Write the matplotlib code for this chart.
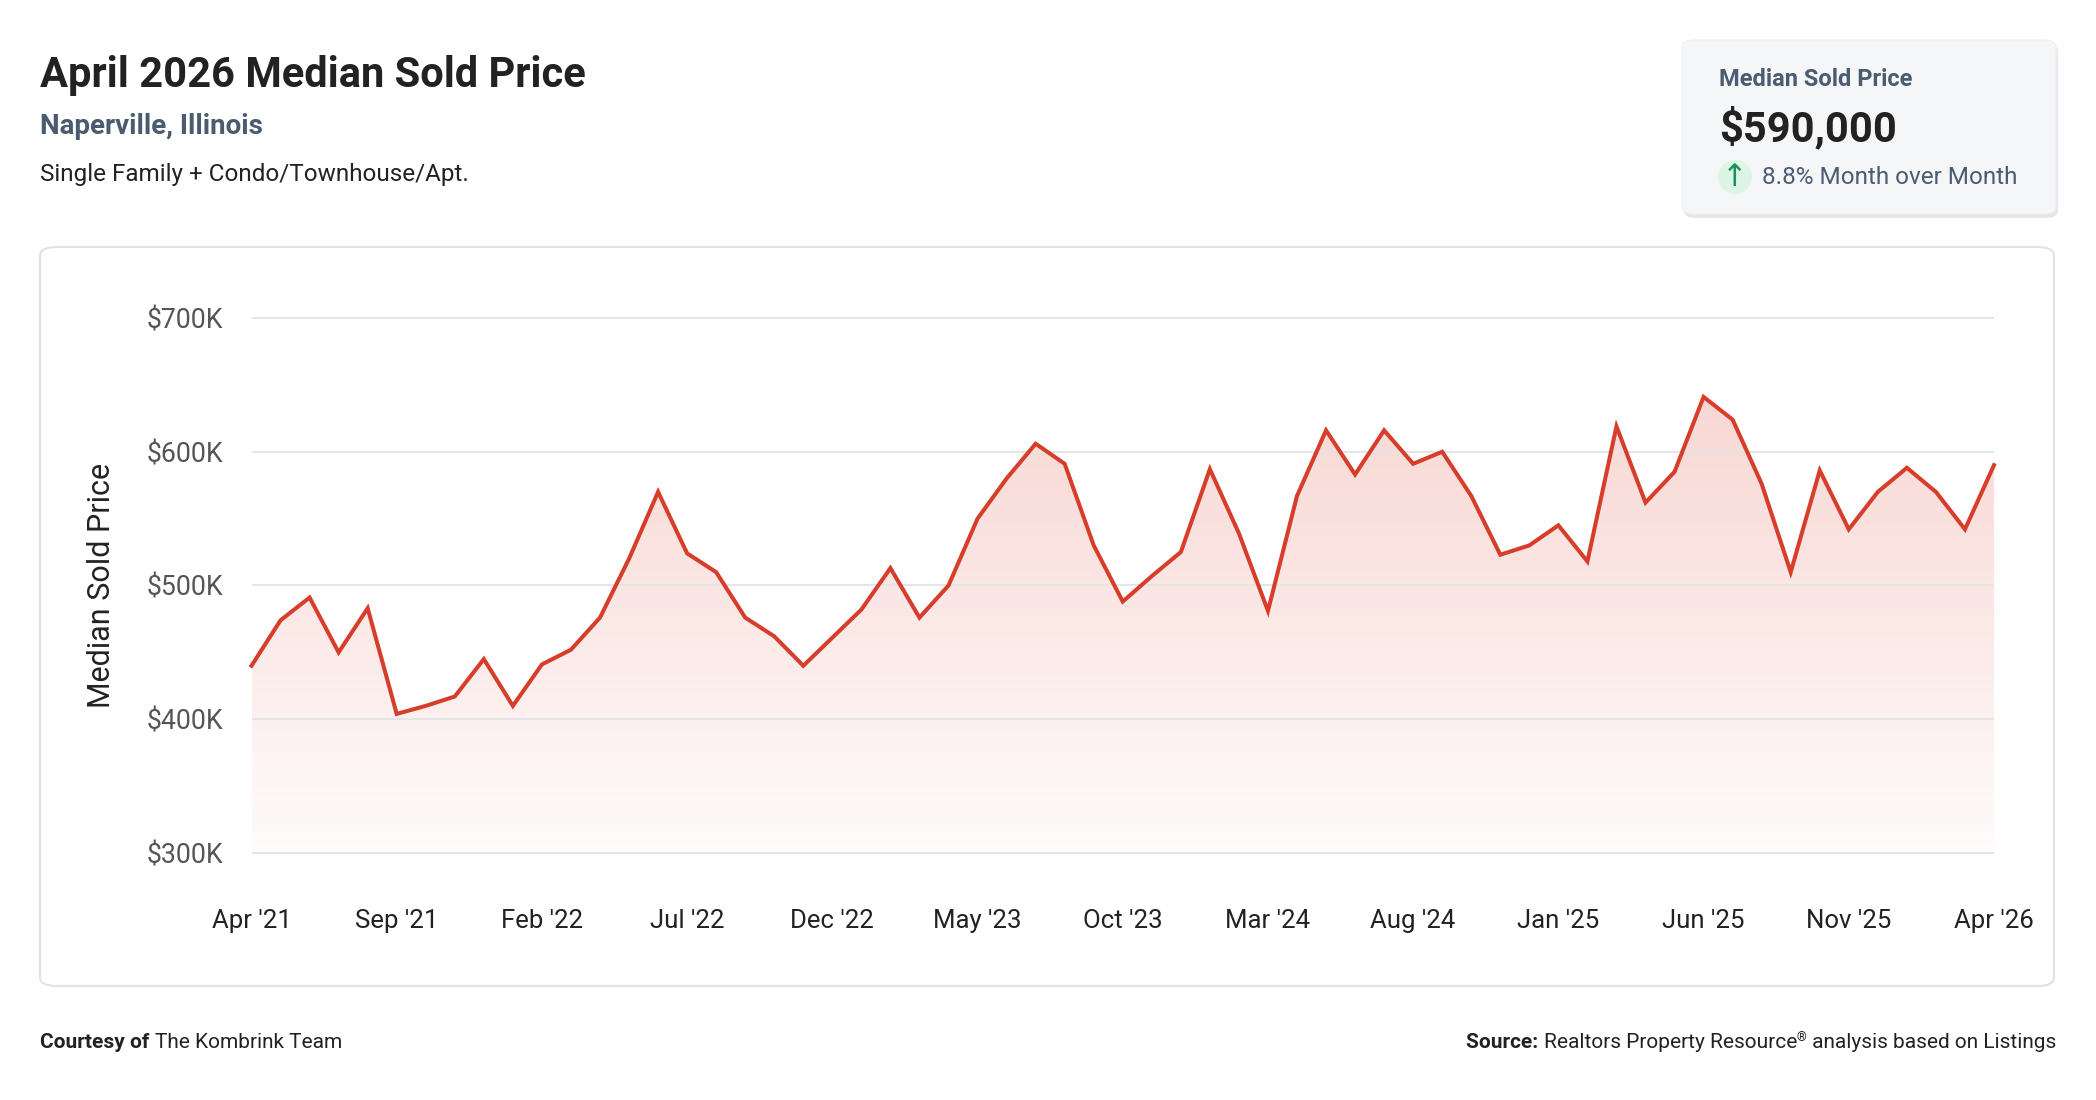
import numpy as np
import matplotlib
matplotlib.use("Agg")
import matplotlib.pyplot as plt
from matplotlib.patches import FancyBboxPatch, Ellipse, Polygon
from matplotlib.ticker import FuncFormatter

plt.rcParams['font.family'] = ['Roboto', 'DejaVu Sans']

# monthly median sold price, Apr 2021 .. Apr 2026 (USD)
months = ["Apr '21", "May '21", "Jun '21", "Jul '21", "Aug '21", "Sep '21", "Oct '21", "Nov '21",
          "Dec '21", "Jan '22", "Feb '22", "Mar '22", "Apr '22", "May '22", "Jun '22", "Jul '22",
          "Aug '22", "Sep '22", "Oct '22", "Nov '22", "Dec '22", "Jan '23", "Feb '23", "Mar '23",
          "Apr '23", "May '23", "Jun '23", "Jul '23", "Aug '23", "Sep '23", "Oct '23", "Nov '23",
          "Dec '23", "Jan '24", "Feb '24", "Mar '24", "Apr '24", "May '24", "Jun '24", "Jul '24",
          "Aug '24", "Sep '24", "Oct '24", "Nov '24", "Dec '24", "Jan '25", "Feb '25", "Mar '25",
          "Apr '25", "May '25", "Jun '25", "Jul '25", "Aug '25", "Sep '25", "Oct '25", "Nov '25",
          "Dec '25", "Jan '26", "Feb '26", "Mar '26", "Apr '26"]
prices = [440000, 474000, 491000, 450000, 483000, 404000, 410000, 417000, 445000, 410000,
          441000, 452000, 476000, 520000, 570000, 524000, 510000, 476000, 462000, 440000,
          461000, 482000, 513000, 476000, 500000, 550000, 580000, 606000, 591000, 530000,
          488000, 507000, 525000, 587000, 539000, 481000, 567000, 616000, 583000, 616000,
          591000, 600000, 567000, 523000, 530000, 545000, 518000, 619000, 562000, 585000,
          641000, 624000, 576000, 510000, 586000, 542000, 570000, 588000, 570000, 542000,
          590000]
y_ticks = [300000, 400000, 500000, 600000, 700000]

W, H = 2096, 1100
LINE = "#d63d2a"
SLATE = "#4b5b70"
DARK = "#222222"


def fx(px):
    return px / W


def fy(py):
    return 1 - py / H


def text_runs(x, y, parts, ha="left"):
    """place several text pieces one after the other on a line (pixel coords)"""
    renderer = fig.canvas.get_renderer()
    texts = []
    cur = x
    for s, kw, dy in parts:
        t = fig.text(fx(cur), fy(y + dy), s, va="center", ha="left", **kw)
        cur += t.get_window_extent(renderer).width
        texts.append(t)
    if ha == "right":
        shift = cur - x
        for t in texts:
            px, py = t.get_position()
            t.set_position((px - shift / W, py))
    return texts


fig = plt.figure(figsize=(W / 100, H / 100), dpi=100)
fig.patch.set_facecolor("white")

# header
fig.text(fx(40), fy(75), "April 2026 Median Sold Price", fontsize=30, fontweight="bold",
         color=DARK, va="center", ha="left")
fig.text(fx(40), fy(127), "Naperville, Illinois", fontsize=20, fontweight="bold",
         color=SLATE, va="center", ha="left")
fig.text(fx(40), fy(175), "Single Family + Condo/Townhouse/Apt.", fontsize=17.5,
         color=DARK, va="center", ha="left")

# KPI card
shadow = FancyBboxPatch((fx(1684), fy(218)), fx(374), (218 - 44) / H,
                        boxstyle="round,pad=0,rounding_size=0.006", transform=fig.transFigure,
                        facecolor="#e4e6ea", edgecolor="none", zorder=-2)
card = FancyBboxPatch((fx(1682), fy(214)), fx(374), (214 - 40) / H,
                      boxstyle="round,pad=0,rounding_size=0.006", transform=fig.transFigure,
                      facecolor="#f5f6f8", edgecolor="#eceef1", linewidth=0.8, zorder=-1)
fig.patches.extend([shadow, card])
fig.text(fx(1719), fy(79), "Median Sold Price", fontsize=17, fontweight="bold",
         color=SLATE, va="center", ha="left")
fig.text(fx(1719), fy(128), "$590,000", fontsize=30, fontweight="bold",
         color=DARK, va="center", ha="left")
fig.patches.append(Ellipse((fx(1735), fy(177)), 34 / W, 34 / H, transform=fig.transFigure,
                           facecolor="#dcf5e4", edgecolor="none", zorder=0))
fig.text(fx(1735), fy(177), "\u2191", fontsize=22, color="#1f8f5c", va="center", ha="center",
         family=["DejaVu Sans"])
fig.text(fx(1762), fy(177), "8.8% Month over Month", fontsize=17.5, color=SLATE,
         va="center", ha="left")

# chart card
box = FancyBboxPatch((fx(40), fy(986)), fx(2014), (986 - 247) / H,
                     boxstyle="round,pad=0,rounding_size=0.008", transform=fig.transFigure,
                     facecolor="white", edgecolor="#dde3ea", linewidth=1.5, zorder=-1)
fig.patches.append(box)

# axes: 300K at y=853px, 700K at y=318px
px_per = (853 - 318) / 400000
y_lo, y_hi = 290000, 710000
top_px = 318 - (y_hi - 700000) * px_per
bot_px = 853 + (300000 - y_lo) * px_per
ax = fig.add_axes([fx(251.5), fy(bot_px), fx(1994 - 251.5), (bot_px - top_px) / H])
ax.set_zorder(2)
ax.set_facecolor("none")
x = np.arange(len(prices))
ax.set_xlim(0, len(prices) - 1)
ax.set_ylim(y_lo, y_hi)

# gradient fill under the line
top_val = max(prices)
grad = np.linspace(0.0, 1.0, 256).reshape(-1, 1)
rgba = np.zeros((256, 1, 4))
rgba[..., 0] = 0.87
rgba[..., 1] = 0.25
rgba[..., 2] = 0.17
rgba[..., 3] = 0.02 + 0.19 * grad
img = ax.imshow(rgba, extent=[0, len(prices) - 1, 300000, top_val], origin="lower",
                aspect="auto", zorder=1)
verts = [(0, 300000)] + list(zip(x, prices)) + [(len(prices) - 1, 300000)]
clip = Polygon(verts, closed=True, transform=ax.transData, facecolor="none", edgecolor="none")
ax.add_patch(clip)
img.set_clip_path(clip)

ax.plot(x, prices, color=LINE, linewidth=2.9, solid_joinstyle="miter", zorder=3, clip_on=False)

for t in y_ticks:
    ax.axhline(t, color="#e5e5e5", linewidth=1.4, zorder=2)

ax.set_yticks(y_ticks)
ax.yaxis.set_major_formatter(FuncFormatter(lambda v, p: f"${int(v / 1000)}K"))
ax.set_xticks(x[::5])
ax.set_xticklabels(months[::5])
ax.tick_params(axis="y", length=0, pad=20.5, labelsize=19.2, labelcolor="#555555")
ax.tick_params(axis="x", length=0, pad=31, labelsize=18.5, labelcolor=DARK)
for s in ax.spines.values():
    s.set_visible(False)
ax.set_ylabel("Median Sold Price", fontsize=22, color=DARK, labelpad=22)

# footer
fig.canvas.draw()
text_runs(40, 1043, [("Courtesy of ", dict(fontsize=15, fontweight="bold", color=DARK), 0),
                     ("The Kombrink Team", dict(fontsize=15, color=DARK), 0)])
text_runs(2056, 1043, [("Source: ", dict(fontsize=15, fontweight="bold", color=DARK), 0),
                       ("Realtors Property Resource", dict(fontsize=15, color=DARK), 0),
                       ("\u00ae", dict(fontsize=9, color=DARK), -5),
                       (" analysis based on Listings", dict(fontsize=15, color=DARK), 0)],
          ha="right")

fig.savefig("out.png", dpi=100, facecolor="white")
